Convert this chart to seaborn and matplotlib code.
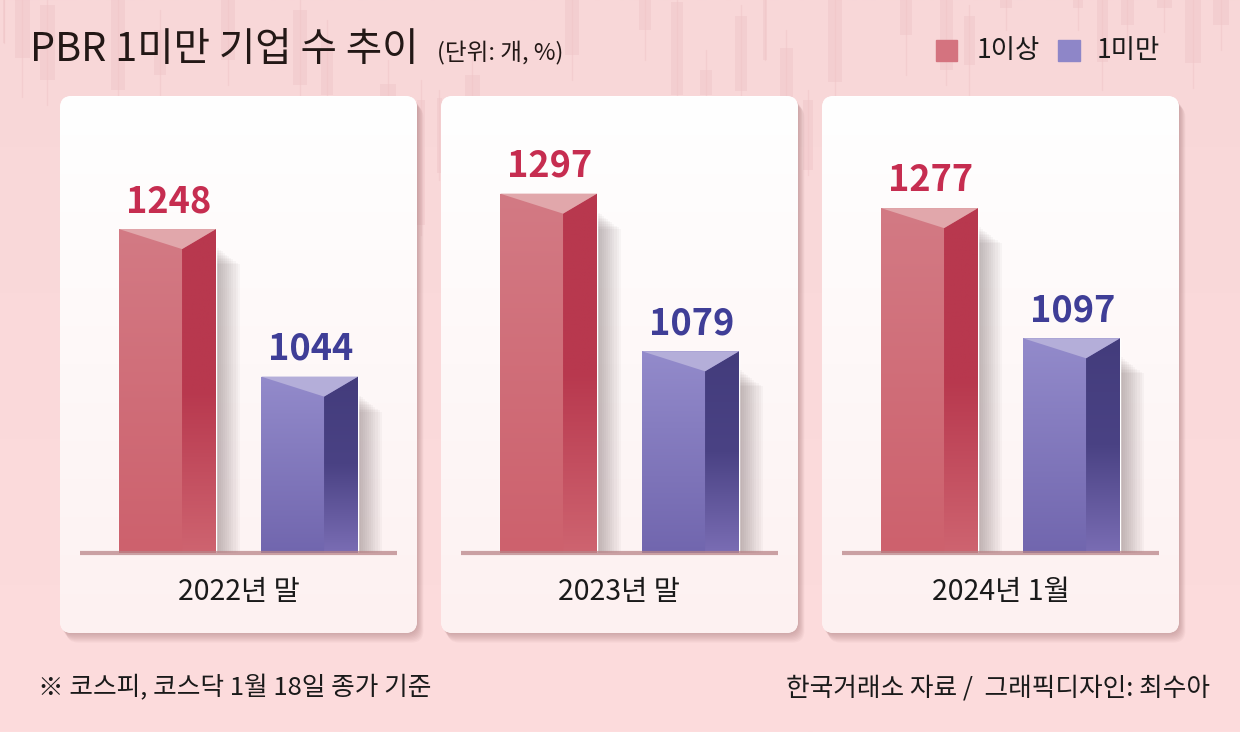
import numpy as np
import pandas as pd
import matplotlib
matplotlib.use('Agg')
import matplotlib.pyplot as plt
from matplotlib.patches import Rectangle, Polygon, FancyBboxPatch
from matplotlib.colors import LinearSegmentedColormap
import seaborn as sns

# data
periods = ['2022년 말', '2023년 말', '2024년 1월']
series = ['1이상', '1미만']
above_1 = [1248, 1297, 1277]
below_1 = [1044, 1079, 1097]

df = pd.DataFrame({
    '기간': np.repeat(periods, 2),
    '구분': series * len(periods),
    '기업 수': [v for pair in zip(above_1, below_1) for v in pair],
})

# decorative candlesticks in the background (x, width, body top, body bottom, wick top, wick bottom)
candles = [
    (4, 2, 0, 43, 0, 43), (22, 15, 0, 58, 0, 97), (47, 15, 5, 80, 0, 105),
    (118, 14, 0, 90, 0, 110), (160, 12, 30, 75, 10, 95), (228, 14, 0, 60, 0, 85),
    (300, 14, 10, 85, 0, 100), (327, 12, 40, 95, 20, 100), (388, 16, 84, 100, 60, 100),
    (421, 8, 100, 225, 80, 235), (439, 5, 98, 173, 90, 180), (472, 15, 75, 100, 55, 100),
    (572, 14, 0, 55, 0, 80), (645, 12, 0, 30, 0, 60), (677, 12, 2, 95, 0, 100),
    (706, 12, 70, 95, 50, 100), (741, 12, 16, 91, 5, 100), (765, 4, 0, 60, 0, 60),
    (786, 13, 48, 99, 30, 100), (808, 10, 100, 170, 90, 175), (835, 14, 0, 82, 0, 100),
    (906, 12, 0, 35, 0, 75), (946, 13, 0, 70, 0, 85), (969, 11, 16, 65, 5, 95),
    (1006, 12, 0, 8, 0, 30), (1078, 10, 0, 8, 0, 30), (1102, 11, 0, 62, 0, 90),
    (1127, 13, 0, 25, 0, 40), (1164, 15, 0, 8, 0, 32), (1193, 16, 0, 63, 0, 88),
    (1221, 16, 0, 25, 0, 50),
]

red_front = ['#d37a84', '#cd616d']
red_side = ['#b8384e', '#b8384e', '#ce6470']
red_top = '#e1a7ab'
blue_front = ['#938bcb', '#7166ae']
blue_side = ['#433c7c', '#4a4284', '#7a6db4']
blue_top = '#b4aed9'
label_colors = ['#c62d50', '#3f3e97']

sns.set_theme(style='white')
plt.rcParams['font.family'] = ['Noto Sans CJK KR', 'DejaVu Sans']

W, H = 1240, 732
fig = plt.figure(figsize=(12.4, 7.32), dpi=100)
bg = fig.add_axes([0, 0, 1, 1])
bg.set_xlim(0, W)
bg.set_ylim(H, 0)
bg.axis('off')

grad = np.linspace(0, 1, 256).reshape(-1, 1)
bg.imshow(grad, cmap=LinearSegmentedColormap.from_list('bg', ['#f8d7d8', '#fddcdd']),
          extent=[0, W, H, 0], aspect='auto', zorder=0)
for cx, cw, bt, bb, wt, wb in candles:
    bg.plot([cx, cx], [wt, wb], color='#eec3c6', lw=1, alpha=0.45, zorder=1)
    bg.add_patch(Rectangle((cx - cw / 2, bt), cw, bb - bt, color='#f0c6c9', alpha=0.5, lw=0, zorder=1))
bg.set_xlim(0, W)
bg.set_ylim(H, 0)

# panels
panel_x = [60, 441, 822]
panel_top, panel_bot, panel_w = 96, 633, 357
for px in panel_x:
    for k in range(1, 9):
        bg.add_patch(FancyBboxPatch((px + k * 0.8, panel_top + k * 1.2), panel_w, panel_bot - panel_top,
                                    boxstyle='round,pad=0,rounding_size=12', fc='#8a5658', ec='none',
                                    alpha=0.05, zorder=2))
    panel = FancyBboxPatch((px, panel_top), panel_w, panel_bot - panel_top,
                           boxstyle='round,pad=0,rounding_size=12', fc='#fffafa', ec='none', zorder=3)
    bg.add_patch(panel)
    im = bg.imshow(grad, cmap=LinearSegmentedColormap.from_list('pn', ['#ffffff', '#fdf1f1']),
                   extent=[px, px + panel_w, panel_bot, panel_top], aspect='auto', zorder=3)
    im.set_clip_path(panel)
bg.set_xlim(0, W)
bg.set_ylim(H, 0)

# title, legend, notes
bg.text(30, 50, 'PBR 1미만 기업 수 추이', fontsize=28.5, fontweight='medium', color='#231816', va='center')
bg.text(437, 53, '(단위: 개, %)', fontsize=17, color='#231816', va='center')
bg.add_patch(Rectangle((936, 40), 21, 21, color='#d4737f', zorder=4))
bg.text(977, 50, series[0], fontsize=19, color='#1a1a1a', va='center')
bg.add_patch(Rectangle((1058, 40), 22, 21, color='#8e86c8', zorder=4))
bg.text(1097, 50, series[1], fontsize=19, color='#1a1a1a', va='center')
bg.text(38, 688, '※ 코스피, 코스닥 1월 18일 종가 기준', fontsize=18.5, color='#1a1a1a', va='center')
bg.text(1210, 688, '한국거래소 자료 /  그래픽디자인: 최수아', fontsize=18.5, color='#1a1a1a',
        va='center', ha='right')

base_px = 553
y0, y1 = 800, 1432
depth = 27.7
px_unit_x = 1 / 142
px_unit_y = 1 / 0.7232

for i, period in enumerate(periods):
    px = panel_x[i]
    ax = fig.add_axes([px / W, (H - base_px) / H, panel_w / W, (base_px - panel_top) / H])
    ax.patch.set_alpha(0)
    sub = df[df['기간'] == period]
    sns.barplot(data=sub, x='구분', y='기업 수', hue='구분', order=series, hue_order=series,
                palette=[red_front[0], blue_front[0]], width=0.683, saturation=1,
                legend=False, ax=ax, zorder=3)
    bars = list(ax.patches)
    for j, p in enumerate(bars):
        x0, w, v = p.get_x(), p.get_width(), p.get_height()
        front_c, side_c, top_c = (red_front, red_side, red_top) if j == 0 else (blue_front, blue_side, blue_top)
        apex = x0 + w * 0.65
        # soft shadow on the right
        for k in range(1, 13):
            top = v - depth * 0.8 - k * 1.6 * px_unit_y
            ax.add_patch(Rectangle((x0 + w - 0.01, y0), k * 2.1 * px_unit_x, top - y0,
                                   fc='#6e5a5c', ec='none', alpha=0.042, zorder=2))
        im = ax.imshow(grad, cmap=LinearSegmentedColormap.from_list('f', front_c),
                       extent=[x0, x0 + w, y0, v], aspect='auto', zorder=4)
        im.set_clip_path(p)
        side = Polygon([(apex, y0), (apex, v - depth), (x0 + w, v), (x0 + w, y0)],
                       fc='none', ec='none')
        ax.add_patch(side)
        im = ax.imshow(grad, cmap=LinearSegmentedColormap.from_list('s', side_c),
                       extent=[apex, x0 + w, y0, v], aspect='auto', zorder=5)
        im.set_clip_path(side)
        ax.add_patch(Polygon([(x0, v), (x0 + w, v), (apex, v - depth)], fc=top_c, ec='none', zorder=6))
        ax.annotate(f'{v:.0f}', (x0 + w / 2, v), xytext=(1, 17), textcoords='offset pixels',
                    ha='center', va='baseline', fontsize=26, fontweight='bold',
                    color=label_colors[j], zorder=8)
    ax.plot([-0.616, 1.616], [y0, y0], color='#b98589', lw=3, alpha=0.75,
            solid_capstyle='butt', clip_on=False, zorder=7)
    ax.annotate(period, (0.5, 0), xycoords='axes fraction', xytext=(0, -39),
                textcoords='offset pixels', ha='center', va='center', fontsize=20.5, color='#1a1a1a')
    ax.set_xlim(-0.757, 1.757)
    ax.set_ylim(y0, y1)
    ax.axis('off')

fig.savefig('out.png', dpi=100)
